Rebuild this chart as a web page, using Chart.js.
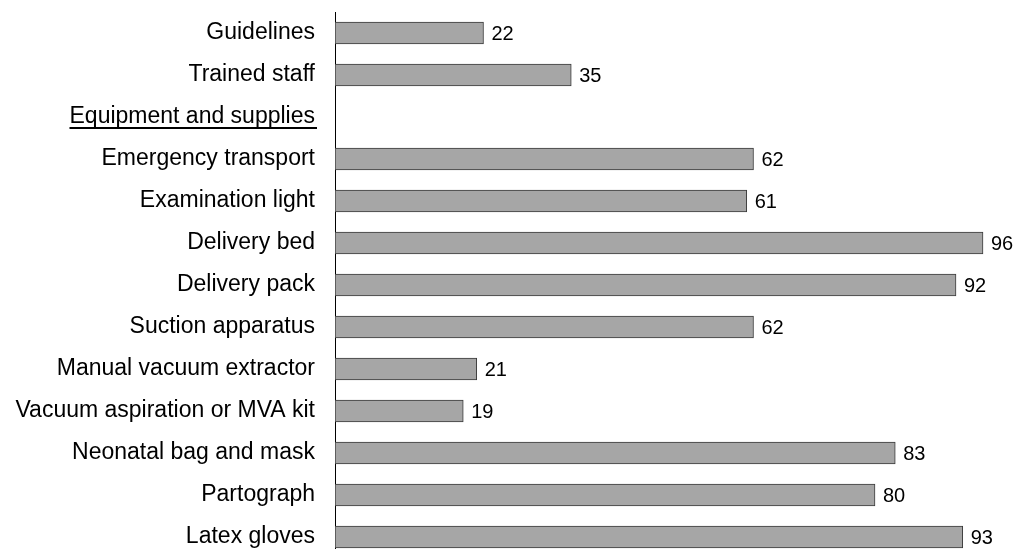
<!DOCTYPE html>
<html>
<head>
<meta charset="utf-8">
<script src="https://cdn.jsdelivr.net/npm/chart.js@4/dist/chart.umd.min.js"></script>
<style>
html,body{margin:0;padding:0;background:#fff;overflow:hidden;width:1020px;height:549px;}
#wrap{position:absolute;left:0;top:0;width:1020px;height:560px;}
</style>
</head>
<body>
<div id="wrap"><canvas id="c" width="1020" height="560"></canvas></div>
<script>
const categories = [
  "Guidelines",
  "Trained staff",
  "Equipment and supplies",
  "Emergency transport",
  "Examination light",
  "Delivery bed",
  "Delivery pack",
  "Suction apparatus",
  "Manual vacuum extractor",
  "Vacuum aspiration or MVA kit",
  "Neonatal bag and mask",
  "Partograph",
  "Latex gloves"
];
const values = [22, 35, null, 62, 61, 96, 92, 62, 21, 19, 83, 80, 93];
const headingIndex = 2;
const xMin = 0;
const xMax = 100;

const FONT = "'Liberation Sans', Arial, sans-serif";
const LABEL_SIZE = 23;

const valueLabels = {
  id: 'valueLabels',
  afterDatasetsDraw(chart) {
    const ctx = chart.ctx;
    const meta = chart.getDatasetMeta(0);
    ctx.save();
    ctx.font = "20px " + FONT;
    ctx.fillStyle = '#000';
    ctx.textAlign = 'left';
    ctx.textBaseline = 'middle';
    meta.data.forEach((bar, i) => {
      const v = values[i];
      if (v === null || v === undefined) return;
      ctx.fillText(String(v), bar.x + 8, bar.y + 1);
    });
    ctx.restore();
  }
};

const underline = {
  id: 'underlineHeading',
  afterDraw(chart) {
    const ctx = chart.ctx;
    const y = chart.scales.y;
    const yc = y.getPixelForTick(headingIndex);
    const right = chart.chartArea.left - 20;
    ctx.save();
    ctx.font = LABEL_SIZE + "px " + FONT;
    const w = ctx.measureText(categories[headingIndex]).width;
    ctx.strokeStyle = '#000';
    ctx.lineWidth = 2;
    ctx.beginPath();
    ctx.moveTo(right - w, yc + 11);
    ctx.lineTo(right + 2, yc + 11);
    ctx.stroke();
    ctx.restore();
  }
};

new Chart(document.getElementById('c'), {
  type: 'bar',
  data: {
    labels: categories,
    datasets: [{
      data: values,
      backgroundColor: '#a6a6a6',
      borderColor: '#3a3a3a',
      borderWidth: 1,
      borderSkipped: false,
      barThickness: 22
    }]
  },
  options: {
    indexAxis: 'y',
    responsive: false,
    animation: false,
    layout: { padding: { top: 12, bottom: 2, left: 0, right: 10 } },
    plugins: { legend: { display: false }, tooltip: { enabled: false } },
    scales: {
      x: { display: false, min: xMin, max: xMax },
      y: {
        grid: { display: false, drawTicks: false },
        border: { display: true, color: '#000', width: 1 },
        ticks: {
          color: '#000',
          padding: 20,
          autoSkip: false,
          font: { family: FONT, size: LABEL_SIZE }
        },
        afterFit(scale) {
          scale.width = 335;
          scale.paddingTop = 0;
          scale.paddingBottom = 0;
        }
      }
    }
  },
  plugins: [valueLabels, underline]
});
</script>
</body>
</html>
